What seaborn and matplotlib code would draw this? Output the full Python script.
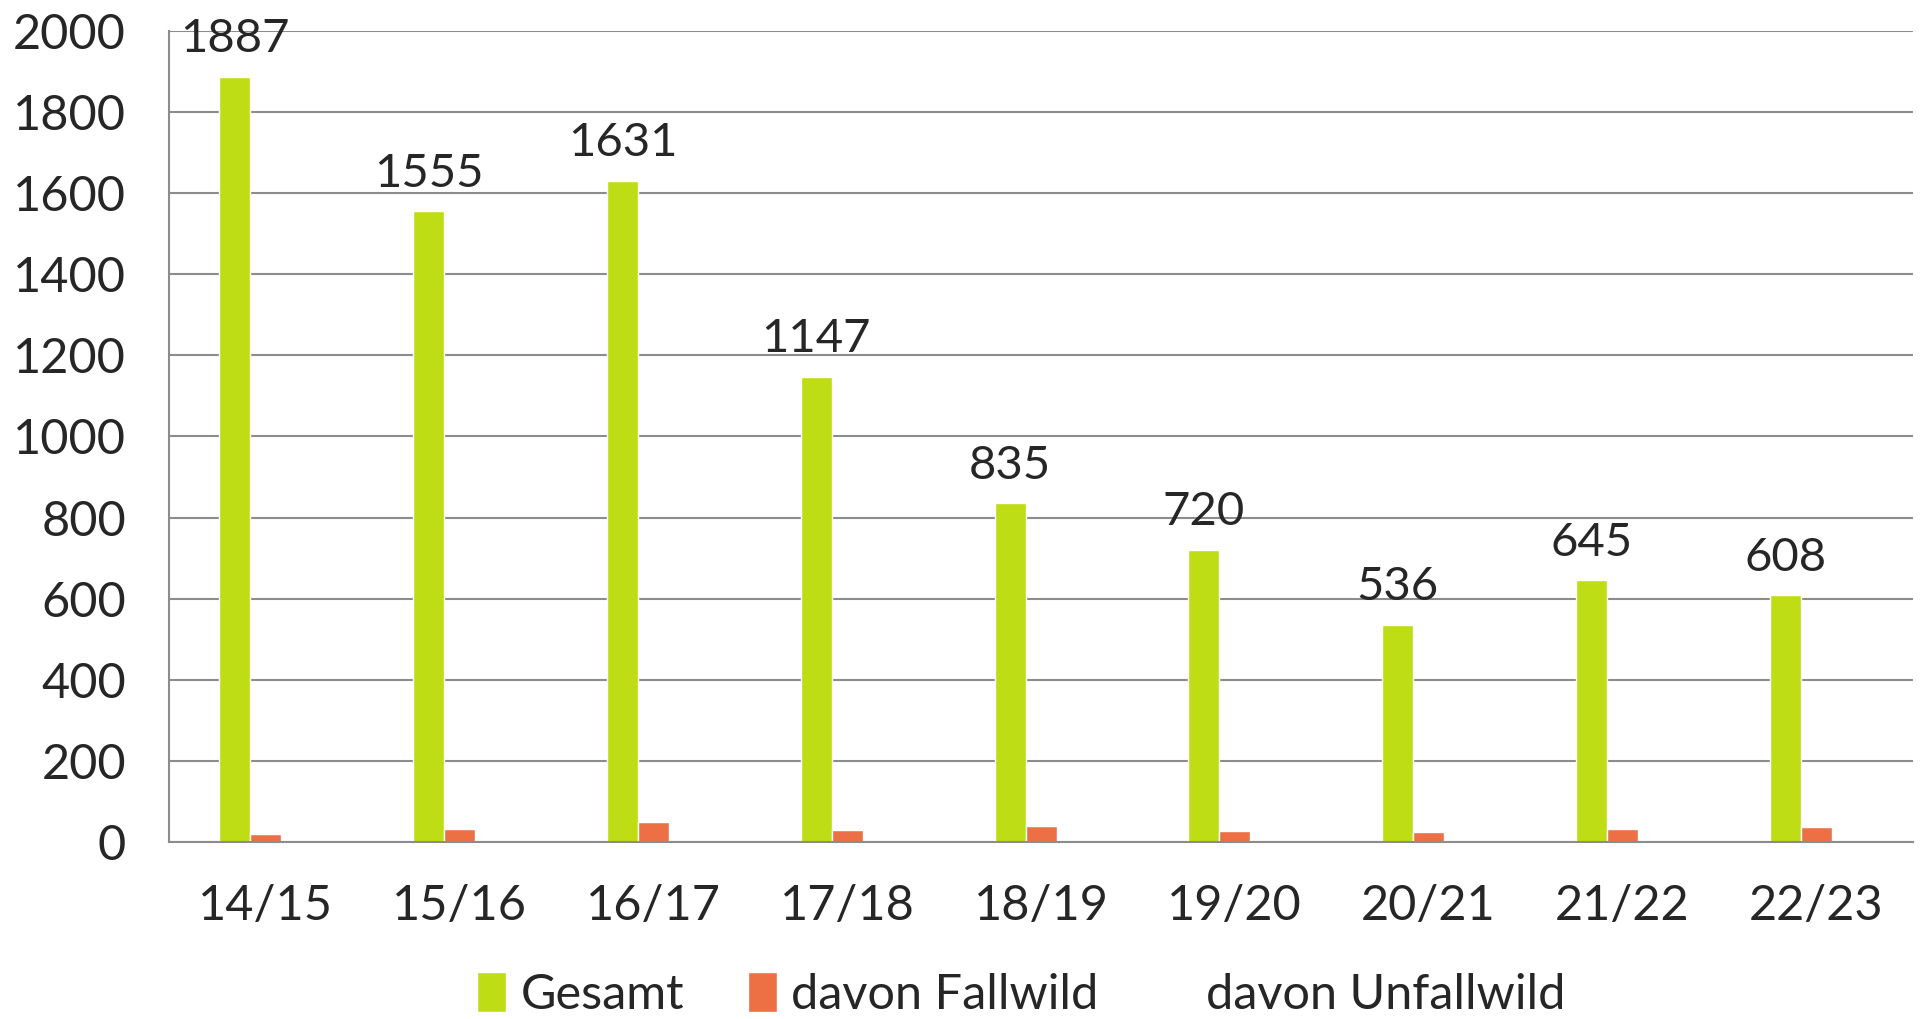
import numpy as np
import pandas as pd
import matplotlib
matplotlib.use("Agg")
import matplotlib.pyplot as plt
import seaborn as sns

seasons = ["14/15", "15/16", "16/17", "17/18", "18/19", "19/20", "20/21", "21/22", "22/23"]
gesamt = [1887, 1555, 1631, 1147, 835, 720, 536, 645, 608]
fallwild = [19, 31, 49, 30, 40, 28, 24, 31, 36]
unfallwild = [0, 0, 0, 0, 0, 0, 0, 0, 0]
series_names = ["Gesamt", "davon Fallwild", "davon Unfallwild"]
colors = ["#BEDD14", "#ED7045", "#FFFFFF"]
y_ticks = [0, 200, 400, 600, 800, 1000, 1200, 1400, 1600, 1800, 2000]

df = pd.DataFrame({
    "Saison": seasons * 3,
    "Wert": gesamt + fallwild + unfallwild,
    "Serie": [series_names[0]] * 9 + [series_names[1]] * 9 + [series_names[2]] * 9,
})

sns.set_theme(style="white")
plt.rcParams["font.family"] = ["Lato", "DejaVu Sans"]

fig = plt.figure(figsize=(19.23, 10.19), dpi=100)
ax = fig.add_axes([0.0879, 0.1737, 0.9069, 0.7959])

sns.barplot(data=df, x="Saison", y="Wert", hue="Serie", palette=colors,
            width=0.48, dodge=True, saturation=1, ax=ax, legend=True)

ax.set_ylim(0, 2000)
ax.set_xlim(-0.5, 8.5)
ax.set_yticks(y_ticks)
ax.set_yticklabels([str(v) for v in y_ticks], fontsize=35)
ax.set_xlabel("")
ax.set_ylabel("")
ax.tick_params(axis="x", which="major", length=0, labelsize=35, pad=30)
ax.set_xticks(np.arange(-0.5, 9.0, 1.0), minor=True)
ax.tick_params(axis="x", which="minor", length=13, width=1.5, color="#8c8c8c", direction="out")
ax.tick_params(axis="y", length=9, width=1.5, color="#8c8c8c", direction="out", pad=22)

ax.yaxis.grid(True, color="#8c8c8c", linewidth=1.5)
ax.set_axisbelow(True)
for s in ["top", "right"]:
    ax.spines[s].set_visible(False)
for s in ["left", "bottom"]:
    ax.spines[s].set_color("#8c8c8c")
    ax.spines[s].set_linewidth(1.5)

ax.bar_label(ax.containers[0], labels=[str(v) for v in gesamt], padding=12, fontsize=34)

handles, labels = ax.get_legend_handles_labels()
ax.get_legend().remove()
fig.legend(handles, labels, loc="center", bbox_to_anchor=(0.531, 0.024), ncol=3,
           frameon=False, fontsize=35, handlelength=0.6, handleheight=0.9,
           handletextpad=0.3, columnspacing=1.3)

fig.savefig("out.png", dpi=100, facecolor="white")
